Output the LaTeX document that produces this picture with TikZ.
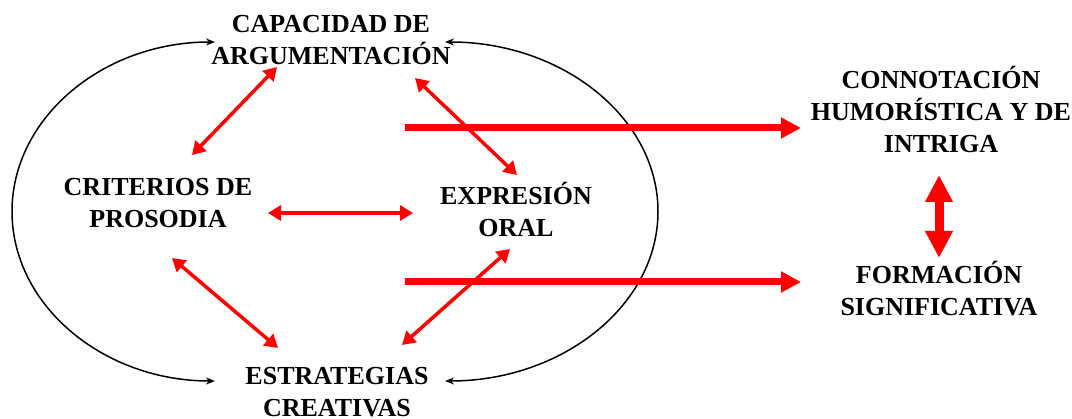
\documentclass[tikz,border=0pt]{standalone}
\usepackage{fontspec}
\setmainfont{Liberation Serif}
\usetikzlibrary{arrows.meta}
\definecolor{rojo}{RGB}{255,0,0}
\begin{document}
\begin{tikzpicture}[x=1pt,y=1pt,
  lbl/.style={inner sep=0pt, align=center, font=\fontsize{26}{32}\selectfont\bfseries},
  thinred/.style={rojo, line width=3.5pt, {Triangle[length=13pt,width=15pt]}-{Triangle[length=13pt,width=15pt]}},
  thickred/.style={rojo, line width=7pt, -{Triangle[length=20pt,width=20pt]}},
  bigdouble/.style={rojo, line width=9pt, {Triangle[length=27pt,width=26pt]}-{Triangle[length=27pt,width=26pt]}},
  loop/.style={black, line width=1.5pt, {Stealth[length=9pt,width=7pt]}-{Stealth[length=9pt,width=7pt]}}
]
\useasboundingbox[fill=white] (0,0) rectangle (1072,419);

\node[lbl] (cap) at (331,378.5) {CAPACIDAD DE\\ARGUMENTACIÓN};
\node[lbl] (crit) at (158,216) {CRITERIOS DE\\PROSODIA};
\node[lbl] (expr) at (516,210) {EXPRESIÓN\\ORAL};
\node[lbl] (estr) at (337,26.5) {ESTRATEGIAS\\CREATIVAS};
\node[lbl] (conn) at (941,309.5) {CONNOTACIÓN\\HUMORÍSTICA Y DE\\INTRIGA};
\node[lbl] (form) at (939,130.5) {FORMACIÓN\\SIGNIFICATIVA};

% loop arcs
\coordinate (lt) at (215,377);
\coordinate (rt) at (445,377);
\draw[loop] (lt) arc[start angle=90, end angle=270, x radius=203, y radius=169.5];
\draw[loop] (rt) arc[start angle=90, end angle=-90, x radius=213, y radius=169.5];

% thin red arrows
\coordinate (capA) at (277,352);
\coordinate (critA) at (192,264);
\coordinate (capB) at (415,341);
\coordinate (exprA) at (517,244);
\coordinate (critB) at (268,206);
\coordinate (exprB) at (413,206);
\coordinate (critC) at (172,161);
\coordinate (estrA) at (278,71);
\coordinate (exprC) at (510,170);
\coordinate (estrB) at (402,74);
\draw[thinred] (capA) -- (critA);
\draw[thinred] (capB) -- (exprA);
\draw[thinred] (critB) -- (exprB);
\draw[thinred] (critC) -- (estrA);
\draw[thinred] (exprC) -- (estrB);

% thick red arrows
\coordinate (s1) at (405,291);
\coordinate (e1) at (801,291);
\coordinate (s2) at (405,137);
\coordinate (e2) at (801,137);
\draw[thickred] (s1) -- (e1);
\draw[thickred] (s2) -- (e2);
\coordinate (v1) at (939,244);
\coordinate (v2) at (939,161);
\draw[bigdouble] (v1) -- (v2);
\end{tikzpicture}
\end{document}
